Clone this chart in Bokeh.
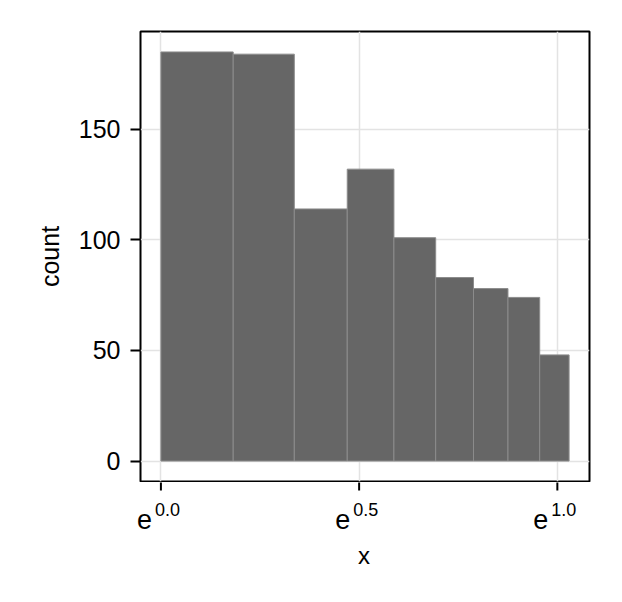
import numpy as np
from bokeh.plotting import figure
from bokeh.models import FixedTicker, Range1d
from bokeh.core.properties import value
from bokeh.embed import file_html
from bokeh.resources import INLINE

# ---- data ----
bin_edges = [1.0, 1.2, 1.4, 1.6, 1.8, 2.0, 2.2, 2.4, 2.6, 2.8]
counts = [185, 184, 114, 132, 101, 83, 78, 74, 48]
x_tick_exponents = [0.0, 0.5, 1.0]
x_tick_labels = ["0.0", "0.5", "1.0"]
y_ticks = [0, 50, 100, 150]
x_label = "x"
y_label = "count"

FONT = "Liberation Sans"

lo, hi = np.log(bin_edges[0]), np.log(bin_edges[-1])
pad = 0.05 * (hi - lo)
x_start, x_end = float(np.exp(lo - pad)), float(np.exp(hi + pad))
ymax = max(counts)
y_start, y_end = -0.05 * ymax, 1.05 * ymax
x_ticks = [float(np.exp(t)) for t in x_tick_exponents]

W, LB, RB = 614, 140, 25
FW = W - LB - RB

# ---- main histogram panel ----
p = figure(width=W, height=482, x_axis_type="log", title=None,
           x_range=Range1d(x_start, x_end), y_range=Range1d(y_start, y_end),
           output_backend="svg", toolbar_location=None,
           min_border_left=LB, min_border_right=RB,
           min_border_top=31, min_border_bottom=1)

p.quad(left=bin_edges[:-1], right=bin_edges[1:], bottom=0, top=counts,
       fill_color="#666666", line_color="#8c8c8c", line_width=1)

p.xaxis.visible = False
p.yaxis.ticker = FixedTicker(ticks=y_ticks, minor_ticks=[])
p.xgrid.ticker = FixedTicker(ticks=x_ticks, minor_ticks=[])
p.ygrid.ticker = FixedTicker(ticks=y_ticks, minor_ticks=[])

for g in (p.xgrid, p.ygrid):
    g.grid_line_color = "#e3e3e3"
    g.grid_line_width = 1.5

p.outline_line_color = "black"
p.outline_line_width = 2
p.background_fill_color = "white"
p.border_fill_color = "white"

ax = p.yaxis
ax.axis_line_color = None
ax.major_tick_out = 10
ax.major_tick_in = 0
ax.major_tick_line_width = 2
ax.major_tick_line_color = "black"
ax.minor_tick_line_color = None
ax.major_label_text_font = FONT
ax.major_label_text_color = "black"
ax.major_label_text_font_size = "25px"
ax.major_label_standoff = 10
ax.axis_label = y_label
ax.axis_label_text_font = FONT
ax.axis_label_text_font_style = "normal"
ax.axis_label_text_color = "black"
ax.axis_label_text_font_size = "25px"
ax.axis_label_standoff = 12

# ---- strip below: x ticks, e^k tick labels and the x label ----
# same log scale as the main panel, but with the frame spanning the full width
ppu = FW / (np.log(x_end) - np.log(x_start))
q_start = float(np.exp(np.log(x_start) - LB / ppu))
q_end = float(np.exp(np.log(x_end) + RB / ppu))

H = 113
q = figure(width=W, height=H, x_axis_type="log", title=None,
           x_range=Range1d(q_start, q_end), y_range=Range1d(0, H),
           output_backend="svg", toolbar_location=None, min_border=0,
           min_border_left=0, min_border_right=0, min_border_top=0,
           min_border_bottom=0, x_axis_location=None, y_axis_location=None)
q.xgrid.visible = False
q.ygrid.visible = False
q.outline_line_color = None
q.background_fill_color = "white"
q.border_fill_color = "white"

n = len(x_ticks)
q.segment(x0=x_ticks, x1=x_ticks, y0=[H + 2] * n, y1=[H - 8] * n,
          line_color="black", line_width=2)
q.text(x=x_ticks, y=[76] * n, text=["e"] * n, x_offset=-24,
       text_align="left", text_baseline="alphabetic",
       text_font=value(FONT), text_font_size="27px", text_color="black")
q.text(x=x_ticks, y=[86] * n, text=x_tick_labels, x_offset=-6,
       text_align="left", text_baseline="alphabetic",
       text_font=value(FONT), text_font_size="18px", text_color="black")
q.text(x=[float(np.sqrt(x_start * x_end))], y=[40], text=[x_label], x_offset=-1,
       text_align="center", text_baseline="alphabetic",
       text_font=value(FONT), text_font_size="24px", text_color="black")

open("out.html", "w").write(file_html([p, q], INLINE))
